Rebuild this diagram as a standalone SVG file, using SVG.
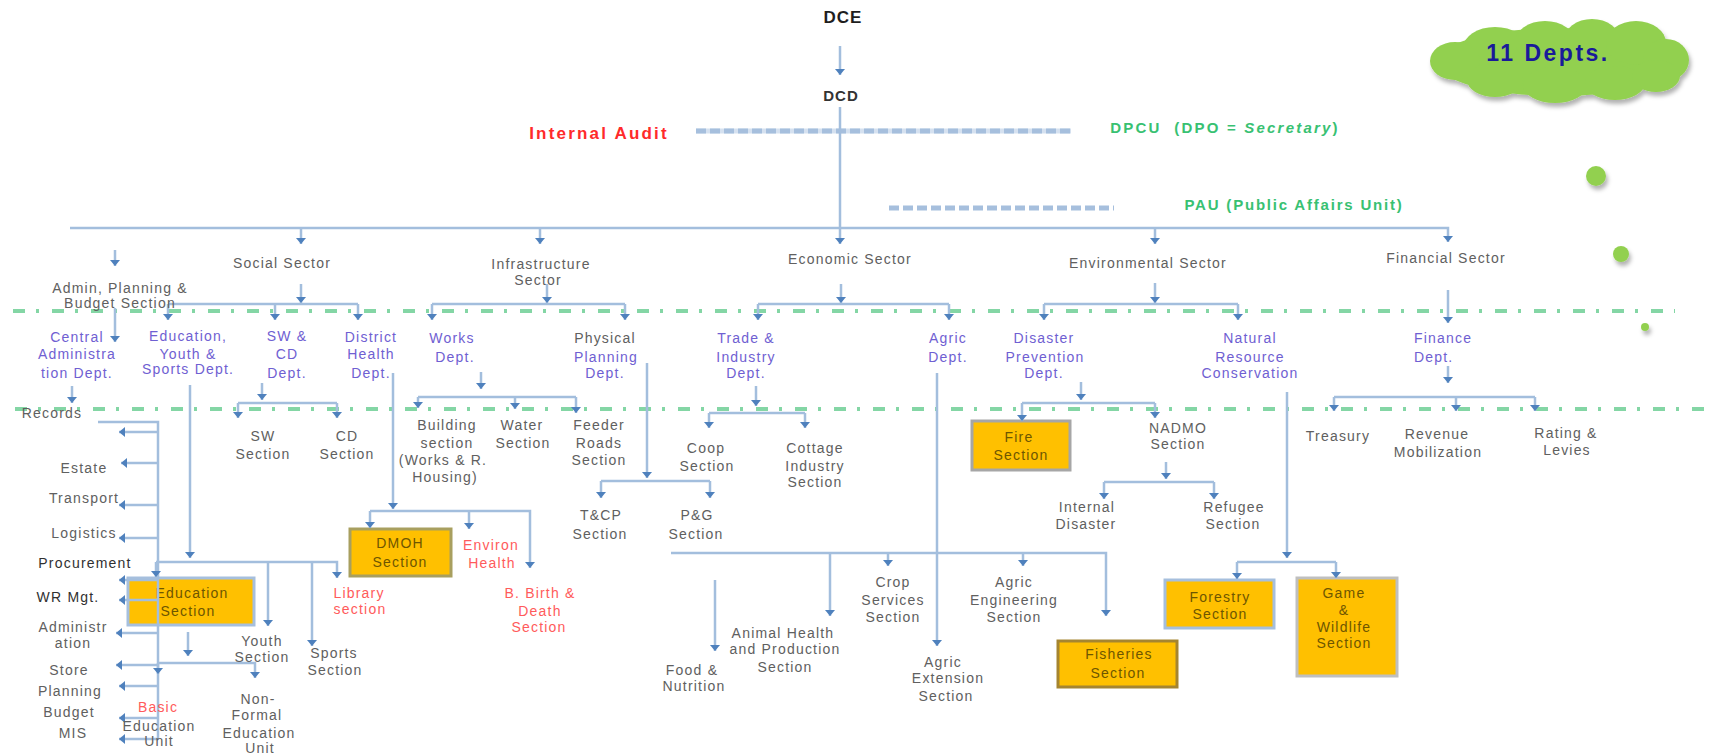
<svg xmlns="http://www.w3.org/2000/svg" width="1711" height="755" viewBox="0 0 1711 755">
<defs>
<marker id="ah" viewBox="0 0 6 10" refX="6" refY="5" markerWidth="6" markerHeight="10" markerUnits="userSpaceOnUse" orient="auto"><path d="M0,0 L6,5 L0,10 z" fill="#4F81BD"/></marker>
<filter id="sh" x="-10%" y="-10%" width="130%" height="140%"><feDropShadow dx="2" dy="4" stdDeviation="2" flood-color="#000" flood-opacity="0.3"/></filter>
</defs>
<style>
text{font-family:"Liberation Sans",Arial,sans-serif;font-size:14px;letter-spacing:1.2px;text-anchor:middle}
.g{fill:#606060}
.d{fill:#303030}
.p{fill:#6F60D2}
.r{fill:#FF5B5B}
.b{fill:#6E5600}
.gr{fill:#38C172;font-weight:bold;font-size:15px;letter-spacing:1.8px}
.ln{stroke:#A3BEDD;stroke-width:2.5;fill:none}
.a{marker-end:url(#ah)}
.gd{stroke:#84D6A5;stroke-width:4;fill:none;stroke-dasharray:12 11 3 13}
.box{fill:#FFC000;stroke-width:3}
</style>
<rect width="1711" height="755" fill="#FFFFFF"/>

<!-- background separators -->
<g id="separators">
<line class="gd" x1="13" y1="311" x2="1675" y2="311"/>
<line class="gd" x1="15" y1="409" x2="1706" y2="409"/>
<line x1="696" y1="131" x2="1071" y2="131" stroke="#D5E1F0" stroke-width="5"/>
<line x1="696" y1="131" x2="1071" y2="131" stroke="#A6BFDD" stroke-width="5" stroke-dasharray="10 4"/>
<line x1="889" y1="208" x2="1114" y2="208" stroke="#A6BFDD" stroke-width="5" stroke-dasharray="10 4"/>
</g>

<!-- cloud -->
<g id="cloud">
<g fill="#92D050" filter="url(#sh)">
<ellipse cx="1559" cy="62" rx="122" ry="34"/>
<ellipse cx="1495" cy="48" rx="32" ry="21"/>
<ellipse cx="1545" cy="42" rx="30" ry="21"/>
<ellipse cx="1592" cy="40" rx="28" ry="21"/>
<ellipse cx="1636" cy="43" rx="30" ry="22"/>
<ellipse cx="1666" cy="60" rx="23" ry="21"/>
<ellipse cx="1455" cy="61" rx="25" ry="19"/>
<ellipse cx="1495" cy="80" rx="28" ry="17"/>
<ellipse cx="1555" cy="85" rx="32" ry="18"/>
<ellipse cx="1615" cy="83" rx="30" ry="17"/>
<ellipse cx="1656" cy="76" rx="24" ry="16"/>
</g>
<text x="1548" y="61" style="font-size:23px;font-weight:bold;letter-spacing:2.5px;fill:#1A1A9A">11 Depts.</text>
</g>
<g id="dots" fill="#92D050" filter="url(#sh)">
<circle cx="1596" cy="176" r="10"/>
<circle cx="1621" cy="254" r="8"/>
<circle cx="1645" cy="327" r="4"/>
</g>

<!-- nodes: boxes -->
<g id="n-education-section"><rect class="box" x="128" y="578" width="126" height="47" stroke="#A6BFDD"/><text class="b" x="192" y="598">Education</text><text class="b" x="188" y="616">Section</text></g>
<g id="n-dmoh"><rect class="box" x="350" y="529" width="101" height="47" stroke="#A89F5F"/><text class="b" x="400" y="548">DMOH</text><text class="b" x="400" y="567">Section</text></g>
<g id="n-fire"><rect class="box" x="972" y="421" width="98" height="49" stroke="#A6A6A6"/><text class="b" x="1019" y="442">Fire</text><text class="b" x="1021" y="460">Section</text></g>
<g id="n-forestry"><rect class="box" x="1165" y="580" width="109" height="48" stroke="#A6BFDD"/><text class="b" x="1220" y="602">Forestry</text><text class="b" x="1220" y="619">Section</text></g>
<g id="n-fisheries"><rect class="box" x="1058" y="641" width="119" height="46" stroke="#A58530"/><text class="b" x="1119" y="659">Fisheries</text><text class="b" x="1118" y="678">Section</text></g>
<g id="n-game"><rect class="box" x="1297" y="578" width="100" height="98" stroke="#BFBFBF"/><text class="b" x="1344" y="598">Game</text><text class="b" x="1344" y="615">&amp;</text><text class="b" x="1344" y="632">Wildlife</text><text class="b" x="1344" y="648">Section</text></g>

<!-- connectors -->
<g id="connectors">
<path class="ln a" d="M840,46 V75"/>
<path class="ln" d="M840,107 V228"/>
<path class="ln a" d="M70,228 H1448 V242"/>
<path class="ln a" d="M301,228 V244"/>
<path class="ln a" d="M540,228 V244"/>
<path class="ln a" d="M840,228 V244"/>
<path class="ln a" d="M1155,228 V244"/>
<path class="ln a" d="M115,250 V266"/>
<path class="ln a" d="M301,284 V303"/>
<path class="ln" d="M168,304 H358"/>
<path class="ln a" d="M168,304 V320"/>
<path class="ln a" d="M275,304 V320"/>
<path class="ln a" d="M358,304 V320"/>
<path class="ln a" d="M115,308 V342"/>
<path class="ln a" d="M72,386 V403"/>
<path class="ln" d="M98,422 H158 V740"/>
<path class="ln a" d="M158,432 H119"/>
<path class="ln a" d="M158,463 H121"/>
<path class="ln a" d="M158,505 H119"/>
<path class="ln a" d="M158,538 H119"/>
<path class="ln a" d="M158,580 H119"/>
<path class="ln a" d="M158,600 H119"/>
<path class="ln a" d="M158,633 H116"/>
<path class="ln a" d="M158,665 H116"/>
<path class="ln a" d="M158,686 H119"/>
<path class="ln a" d="M158,718 H119"/>
<path class="ln a" d="M158,739 H119"/>
<path class="ln a" d="M262,383 V400"/>
<path class="ln" d="M238,403 H337"/>
<path class="ln a" d="M238,403 V418"/>
<path class="ln a" d="M337,403 V418"/>
<path class="ln a" d="M393,373 V509"/>
<path class="ln a" d="M370,511 H530 V568"/>
<path class="ln a" d="M370,511 V528"/>
<path class="ln a" d="M469,511 V529"/>
<path class="ln a" d="M190,385 V558"/>
<path class="ln a" d="M156,562 H337 V578"/>
<path class="ln a" d="M156,562 V577"/>
<path class="ln a" d="M268,562 V626"/>
<path class="ln a" d="M312,562 V646"/>
<path class="ln a" d="M188,632 V656"/>
<path class="ln a" d="M158,663 H255 V678"/>
<path class="ln a" d="M158,663 V674"/>
<path class="ln a" d="M547,284 V303"/>
<path class="ln" d="M432,304 H625"/>
<path class="ln a" d="M432,304 V320"/>
<path class="ln a" d="M625,304 V320"/>
<path class="ln a" d="M481,372 V389"/>
<path class="ln" d="M418,397 H576"/>
<path class="ln a" d="M418,397 V408"/>
<path class="ln a" d="M515,397 V409"/>
<path class="ln a" d="M576,397 V413"/>
<path class="ln a" d="M647,363 V478"/>
<path class="ln" d="M601,481 H710"/>
<path class="ln a" d="M601,481 V498"/>
<path class="ln a" d="M710,481 V498"/>
<path class="ln a" d="M841,284 V303"/>
<path class="ln" d="M758,304 H949"/>
<path class="ln a" d="M758,304 V320"/>
<path class="ln a" d="M949,304 V320"/>
<path class="ln a" d="M756,386 V406"/>
<path class="ln" d="M709,413 H805"/>
<path class="ln a" d="M709,413 V428"/>
<path class="ln a" d="M805,413 V428"/>
<path class="ln a" d="M937,373 V646"/>
<path class="ln a" d="M671,553 H1106 V616"/>
<path class="ln a" d="M830,553 V616"/>
<path class="ln a" d="M888,553 V566"/>
<path class="ln a" d="M1023,553 V566"/>
<path class="ln a" d="M715,580 V651"/>
<path class="ln a" d="M1155,283 V303"/>
<path class="ln" d="M1044,304 H1238"/>
<path class="ln a" d="M1044,304 V320"/>
<path class="ln a" d="M1238,304 V320"/>
<path class="ln a" d="M1081,382 V400"/>
<path class="ln" d="M1022,403 H1155"/>
<path class="ln a" d="M1022,403 V421"/>
<path class="ln a" d="M1155,403 V418"/>
<path class="ln a" d="M1166,462 V479"/>
<path class="ln" d="M1104,482 H1214"/>
<path class="ln a" d="M1104,482 V499"/>
<path class="ln a" d="M1214,482 V499"/>
<path class="ln a" d="M1287,392 V558"/>
<path class="ln" d="M1237,562 H1336"/>
<path class="ln a" d="M1237,562 V579"/>
<path class="ln a" d="M1336,562 V578"/>
<path class="ln a" d="M1448,290 V323"/>
<path class="ln a" d="M1448,366 V383"/>
<path class="ln" d="M1334,397 H1535"/>
<path class="ln a" d="M1334,397 V411"/>
<path class="ln a" d="M1456,397 V411"/>
<path class="ln a" d="M1535,397 V411"/>
</g>

<!-- top nodes -->
<g id="n-dce"><text x="843" y="23" style="font-size:17px;font-weight:bold;fill:#1E1E1E;letter-spacing:1px">DCE</text></g>
<g id="n-dcd"><text x="841" y="101" style="font-size:15px;font-weight:bold;fill:#333;letter-spacing:1px">DCD</text></g>
<g id="n-audit"><text x="599" y="139" style="font-size:17px;font-weight:bold;fill:#FF2A2A;letter-spacing:2.2px">Internal Audit</text></g>
<g id="n-dpcu"><text class="gr" x="1225" y="133" style="letter-spacing:2.2px">DPCU&#160; (DPO = <tspan font-style="italic">Secretary</tspan>)</text></g>
<g id="n-pau"><text class="gr" x="1294" y="210">PAU (Public Affairs Unit)</text></g>

<!-- sectors -->
<g id="n-admin"><text class="g" x="120" y="293">Admin, Planning &amp;</text><text class="g" x="120" y="308">Budget Section</text></g>
<g id="n-social"><text class="g" x="282" y="268">Social Sector</text></g>
<g id="n-infra"><text class="g" x="541" y="269">Infrastructure</text><text class="g" x="538" y="285">Sector</text></g>
<g id="n-economic"><text class="g" x="850" y="264">Economic Sector</text></g>
<g id="n-environ"><text class="g" x="1148" y="268">Environmental Sector</text></g>
<g id="n-financial"><text class="g" x="1446" y="263">Financial Sector</text></g>

<!-- departments -->
<g id="n-central"><text class="p" x="77" y="342">Central</text><text class="p" x="77" y="359">Administra</text><text class="p" x="77" y="378">tion Dept.</text></g>
<g id="n-eys"><text class="p" x="188" y="341">Education,</text><text class="p" x="188" y="359">Youth &amp;</text><text class="p" x="188" y="374">Sports Dept.</text></g>
<g id="n-swcd"><text class="p" x="287" y="341">SW &amp;</text><text class="p" x="287" y="359">CD</text><text class="p" x="287" y="378">Dept.</text></g>
<g id="n-dhd"><text class="p" x="371" y="342">District</text><text class="p" x="371" y="359">Health</text><text class="p" x="371" y="378">Dept.</text></g>
<g id="n-works"><text class="p" x="452" y="343">Works</text><text class="p" x="455" y="362">Dept.</text></g>
<g id="n-ppd"><text class="g" x="605" y="343">Physical</text><text class="p" x="606" y="362">Planning</text><text class="p" x="605" y="378">Dept.</text></g>
<g id="n-trade"><text class="p" x="746" y="343">Trade &amp;</text><text class="p" x="746" y="362">Industry</text><text class="p" x="746" y="378">Dept.</text></g>
<g id="n-agric"><text class="p" x="948" y="343">Agric</text><text class="p" x="948" y="362">Dept.</text></g>
<g id="n-disaster"><text class="p" x="1044" y="343">Disaster</text><text class="p" x="1045" y="362">Prevention</text><text class="p" x="1044" y="378">Dept.</text></g>
<g id="n-natural"><text class="p" x="1250" y="343">Natural</text><text class="p" x="1250" y="362">Resource</text><text class="p" x="1250" y="378">Conservation</text></g>
<g id="n-finance"><text class="p" x="1414" y="343" style="text-anchor:start">Finance</text><text class="p" x="1414" y="362" style="text-anchor:start">Dept.</text></g>

<!-- central admin units -->
<g id="n-records"><text class="g" x="52" y="418">Records</text></g>
<g id="n-estate"><text class="g" x="84" y="473">Estate</text></g>
<g id="n-transport"><text class="g" x="84" y="503">Transport</text></g>
<g id="n-logistics"><text class="g" x="84" y="538">Logistics</text></g>
<g id="n-procurement"><text class="d" x="85" y="568">Procurement</text></g>
<g id="n-wr"><text class="d" x="68" y="602">WR Mgt.</text></g>
<g id="n-administration"><text class="g" x="73" y="632">Administr</text><text class="g" x="73" y="648">ation</text></g>
<g id="n-store"><text class="g" x="69" y="675">Store</text></g>
<g id="n-planning"><text class="g" x="70" y="696">Planning</text></g>
<g id="n-budget"><text class="g" x="69" y="717">Budget</text></g>
<g id="n-mis"><text class="g" x="73" y="738">MIS</text></g>

<!-- sections -->
<g id="n-sw"><text class="g" x="263" y="441">SW</text><text class="g" x="263" y="459">Section</text></g>
<g id="n-cd"><text class="g" x="347" y="441">CD</text><text class="g" x="347" y="459">Section</text></g>
<g id="n-building"><text class="g" x="447" y="430">Building</text><text class="g" x="447" y="448">section</text><text class="g" x="443" y="465">(Works &amp; R.</text><text class="g" x="445" y="482">Housing)</text></g>
<g id="n-water"><text class="g" x="522" y="430">Water</text><text class="g" x="523" y="448">Section</text></g>
<g id="n-feeder"><text class="g" x="599" y="430">Feeder</text><text class="g" x="599" y="448">Roads</text><text class="g" x="599" y="465">Section</text></g>
<g id="n-tcp"><text class="g" x="601" y="520">T&amp;CP</text><text class="g" x="600" y="539">Section</text></g>
<g id="n-pg"><text class="g" x="697" y="520">P&amp;G</text><text class="g" x="696" y="539">Section</text></g>
<g id="n-coop"><text class="g" x="706" y="453">Coop</text><text class="g" x="707" y="471">Section</text></g>
<g id="n-cottage"><text class="g" x="815" y="453">Cottage</text><text class="g" x="815" y="471">Industry</text><text class="g" x="815" y="487">Section</text></g>
<g id="n-nadmo"><text class="g" x="1178" y="433">NADMO</text><text class="g" x="1178" y="449">Section</text></g>
<g id="n-internal"><text class="g" x="1087" y="512">Internal</text><text class="g" x="1086" y="529">Disaster</text></g>
<g id="n-refugee"><text class="g" x="1234" y="512">Refugee</text><text class="g" x="1233" y="529">Section</text></g>
<g id="n-treasury"><text class="g" x="1338" y="441">Treasury</text></g>
<g id="n-revenue"><text class="g" x="1437" y="439">Revenue</text><text class="g" x="1438" y="457">Mobilization</text></g>
<g id="n-rating"><text class="g" x="1566" y="438">Rating &amp;</text><text class="g" x="1567" y="455">Levies</text></g>
<g id="n-youth"><text class="g" x="262" y="646">Youth</text><text class="g" x="262" y="662">Section</text></g>
<g id="n-sports"><text class="g" x="334" y="658">Sports</text><text class="g" x="335" y="675">Section</text></g>
<g id="n-basic"><text class="r" x="158" y="712">Basic</text><text class="g" x="159" y="731">Education</text><text class="g" x="159" y="746">Unit</text></g>
<g id="n-nonformal"><text class="g" x="258" y="704">Non-</text><text class="g" x="257" y="720">Formal</text><text class="g" x="259" y="738">Education</text><text class="g" x="260" y="753">Unit</text></g>
<g id="n-library"><text class="r" x="359" y="598">Library</text><text class="r" x="360" y="614">section</text></g>
<g id="n-envhealth"><text class="r" x="491" y="550">Environ</text><text class="r" x="492" y="568">Health</text></g>
<g id="n-birth"><text class="r" x="540" y="598">B. Birth &amp;</text><text class="r" x="540" y="616">Death</text><text class="r" x="539" y="632">Section</text></g>
<g id="n-food"><text class="g" x="692" y="675">Food &amp;</text><text class="g" x="694" y="691">Nutrition</text></g>
<g id="n-animal"><text class="g" x="783" y="638">Animal Health</text><text class="g" x="785" y="654">and Production</text><text class="g" x="785" y="672">Section</text></g>
<g id="n-crop"><text class="g" x="893" y="587">Crop</text><text class="g" x="893" y="605">Services</text><text class="g" x="893" y="622">Section</text></g>
<g id="n-agriceng"><text class="g" x="1014" y="587">Agric</text><text class="g" x="1014" y="605">Engineering</text><text class="g" x="1014" y="622">Section</text></g>
<g id="n-agricext"><text class="g" x="943" y="667">Agric</text><text class="g" x="948" y="683">Extension</text><text class="g" x="946" y="701">Section</text></g>
</svg>
